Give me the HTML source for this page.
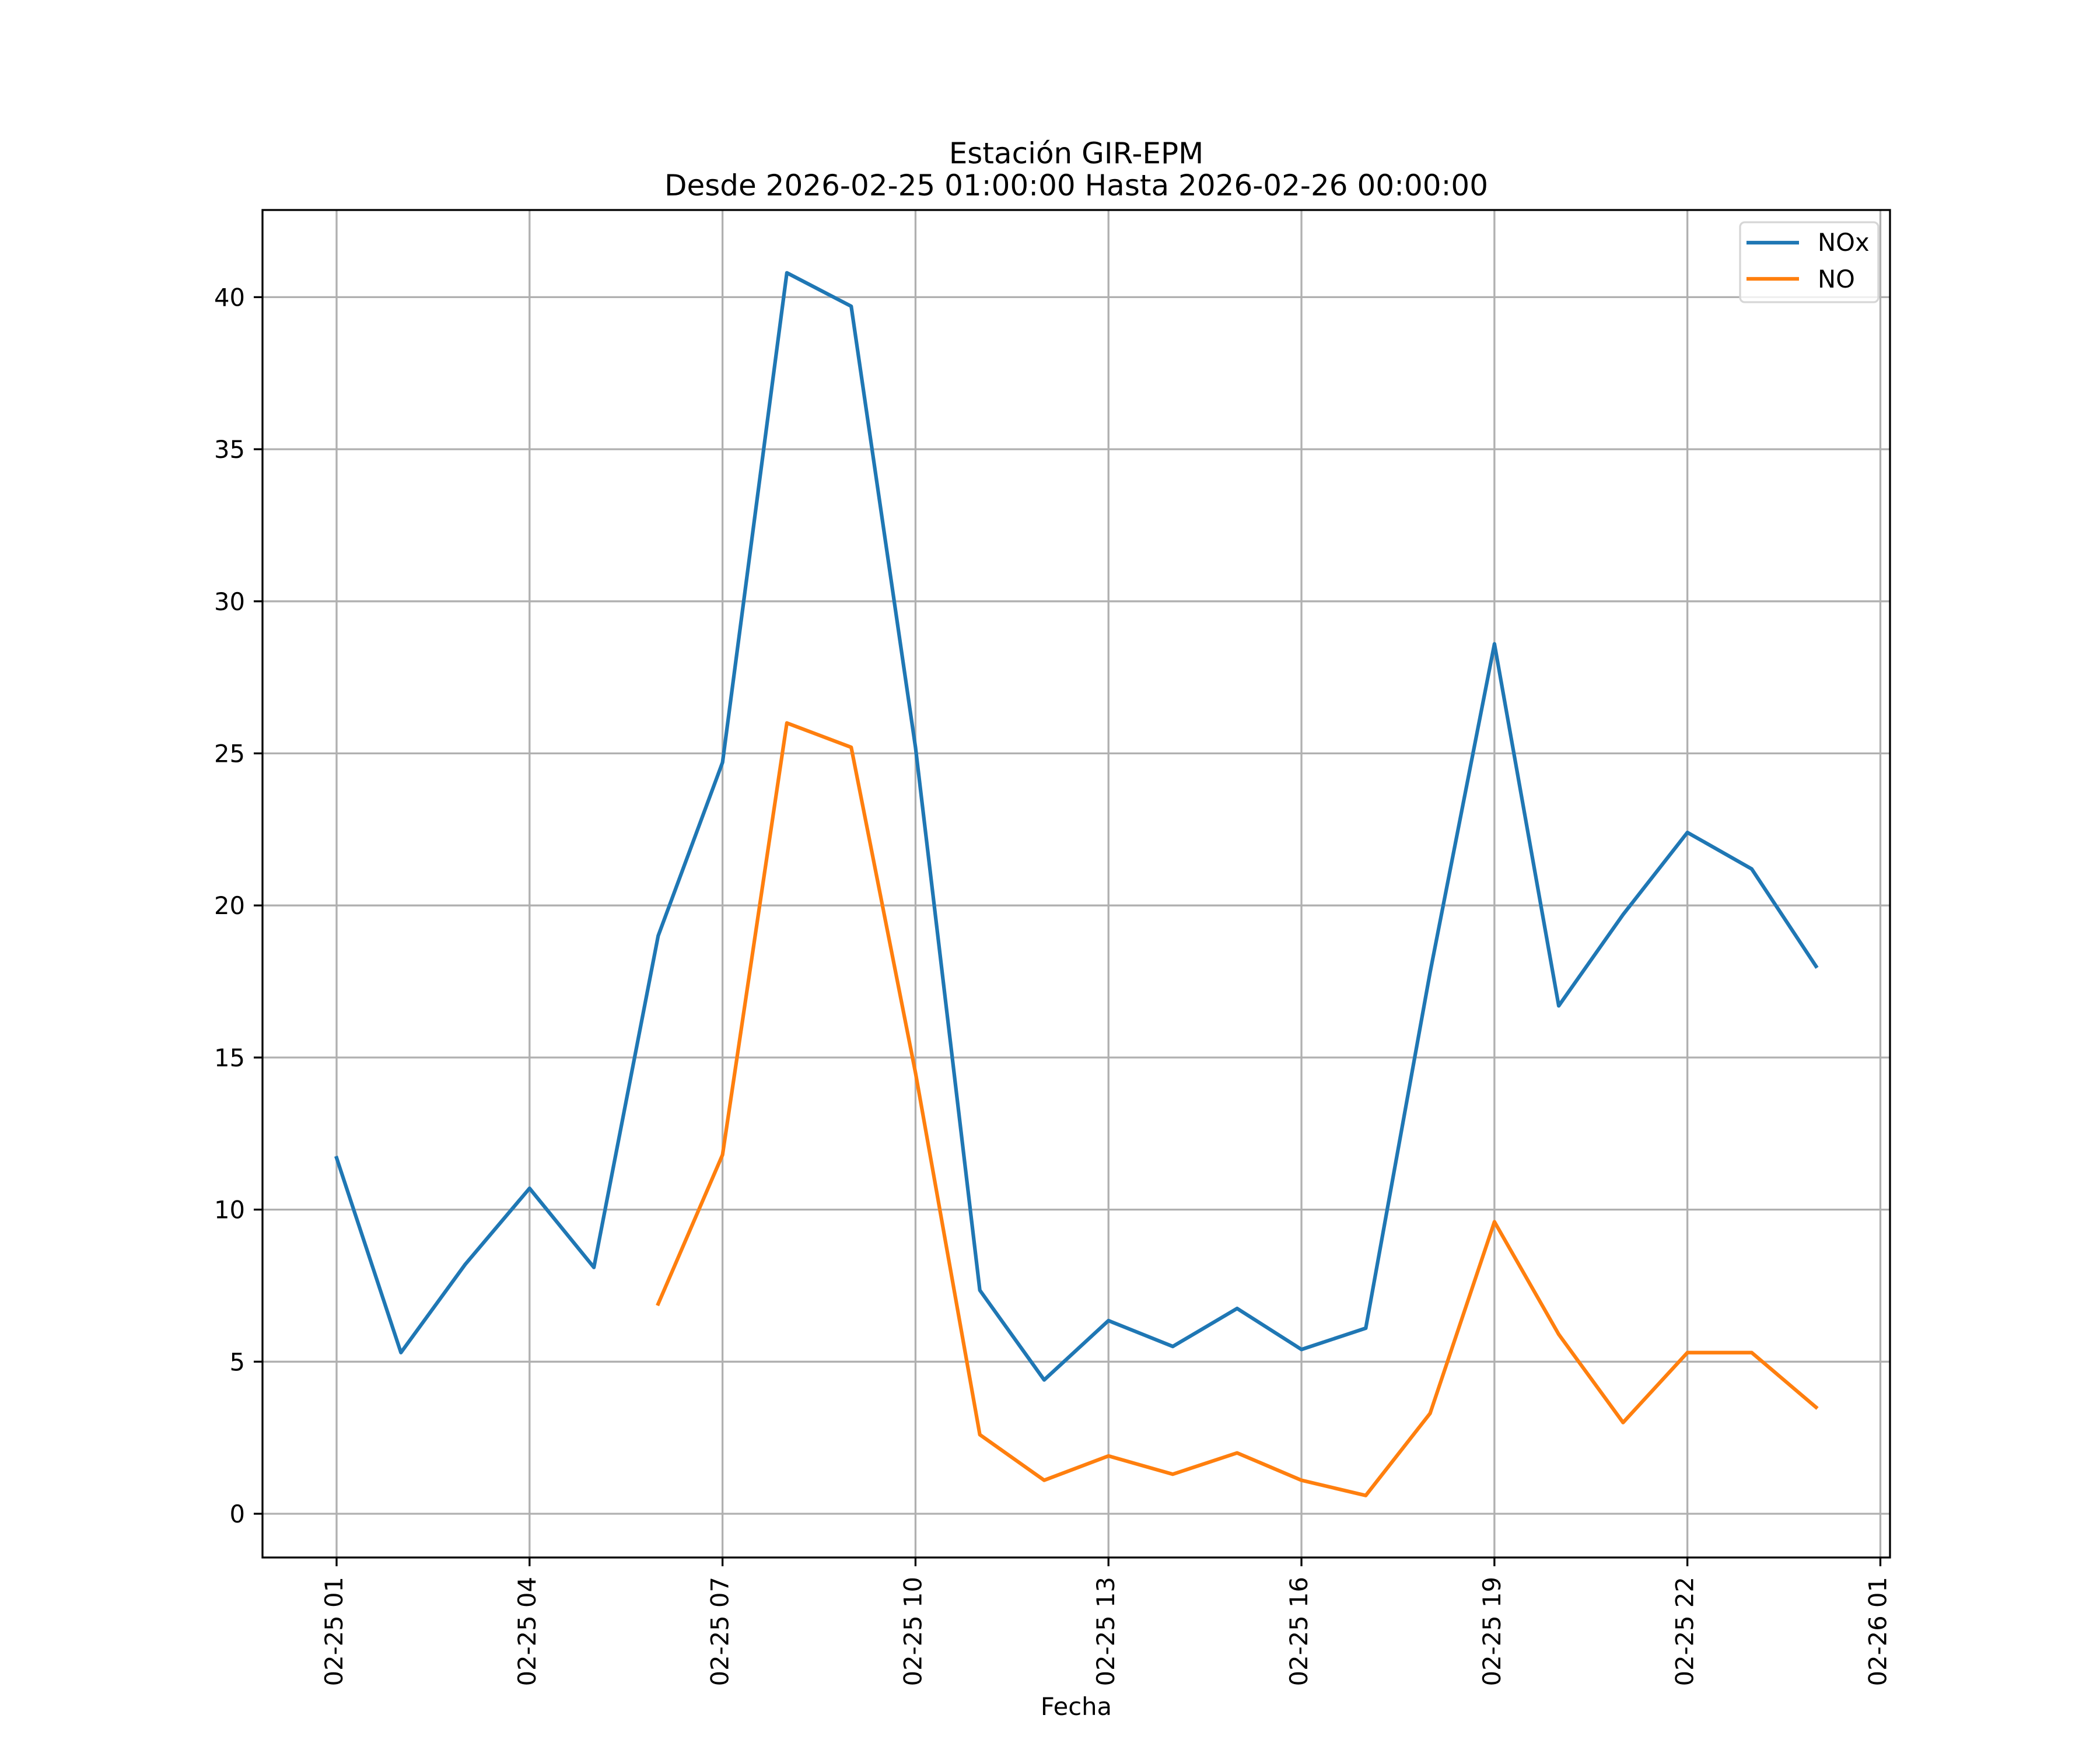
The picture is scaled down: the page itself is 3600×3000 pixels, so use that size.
<!DOCTYPE html>
<html><head><meta charset="utf-8"><style>
html,body{margin:0;padding:0;background:#fff}
svg{display:block;font-family:"DejaVu Sans","Liberation Sans",sans-serif}
</style></head><body>
<svg id="chart" width="3600" height="3000" viewBox="0 0 3600 3000" xmlns="http://www.w3.org/2000/svg">
<rect width="3600" height="3000" fill="#fff"/>
<g id="grid"></g>
<g id="series"></g>
<rect x="450" y="360" width="2790" height="2310" fill="none" stroke="#000" stroke-width="3.3"/>
<g id="ticks"></g>
<text x="1845" y="280" font-size="50" text-anchor="middle">Estación GIR-EPM</text>
<text x="1845" y="335" font-size="50" text-anchor="middle">Desde 2026-02-25 01:00:00 Hasta 2026-02-26 00:00:00</text>
<text x="1845" y="2940" font-size="41.7" text-anchor="middle">Fecha</text>
<g>
<rect x="2983" y="381" width="237" height="137" rx="8" fill="#fff" fill-opacity="0.8" stroke="#d6d6d6" stroke-width="3.3"/>
<line x1="2994" y1="416" x2="3084" y2="416" stroke="#1f77b4" stroke-width="6.25"/>
<text x="3116" y="430" font-size="41.7">NOx</text>
<line x1="2994" y1="478" x2="3084" y2="478" stroke="#ff7f0e" stroke-width="6.25"/>
<text x="3116" y="493" font-size="41.7">NO</text>
</g>
</svg>
<script>
const hours = [1,2,3,4,5,6,7,8,9,10,11,12,13,14,15,16,17,18,19,20,21,22,23,24];
const noxValues = [11.7,5.3,8.2,10.7,8.1,19.0,24.7,40.8,39.7,25.2,7.35,4.4,6.35,5.5,6.75,5.4,6.1,17.8,28.6,16.7,19.7,22.4,21.2,18.0];
const noValues = [null,null,null,null,null,6.9,11.8,26.0,25.2,14.5,2.6,1.1,1.9,1.3,2.0,1.1,0.6,3.3,9.6,5.9,3.0,5.3,5.3,3.5];
const xTickHours = [1,4,7,10,13,16,19,22,25];
const xTickLabels = ["02-25 01","02-25 04","02-25 07","02-25 10","02-25 13","02-25 16","02-25 19","02-25 22","02-26 01"];
const yTicks = [0,5,10,15,20,25,30,35,40];

const NS="http://www.w3.org/2000/svg";
function X(h){return 577+(h-1)*110.27;}
function Y(v){return 2595-v*52.14;}
function mk(tag,attrs,parent){const e=document.createElementNS(NS,tag);for(const k in attrs)e.setAttribute(k,attrs[k]);parent.appendChild(e);return e;}
const grid=document.getElementById('grid'),ticks=document.getElementById('ticks'),series=document.getElementById('series');
yTicks.forEach(v=>{
  const g=mk('line',{x1:450,x2:3240,y1:Y(v),y2:Y(v),stroke:'#b0b0b0','stroke-width':3.3},grid);
  
  
  const t=mk('line',{x1:435,x2:450,y1:Y(v),y2:Y(v),stroke:'#000','stroke-width':3.3},ticks);
  
  
  const l=mk('text',{x:420,y:Y(v)+15,'font-size':41.7,'text-anchor':'end'},ticks);
  l.textContent=v;
  
  
});
xTickHours.forEach((h,i)=>{
  const g=mk('line',{x1:X(h),x2:X(h),y1:360,y2:2670,stroke:'#b0b0b0','stroke-width':3.3},grid);
  
  
  const t=mk('line',{x1:X(h),x2:X(h),y1:2670,y2:2685,stroke:'#000','stroke-width':3.3},ticks);
  
  
  const cx=X(h)+10,cy=2703;
  const l=mk('text',{x:cx,y:cy,'font-size':41.7,'text-anchor':'end',transform:`rotate(-90 ${cx} ${cy})`},ticks);
  l.textContent=xTickLabels[i];
  
  
});
function path(vals,color,name){
  let d='',pen=false;
  vals.forEach((v,i)=>{ if(v===null){pen=false;return;} d+=(pen?'L':'M')+X(hours[i]).toFixed(1)+' '+Y(v).toFixed(1)+' '; pen=true;});
  const p=mk('path',{d:d,fill:'none',stroke:color,'stroke-width':6.25,'stroke-linejoin':'round','stroke-linecap':'square'},series);
  
  
}
path(noxValues,'#1f77b4','nox-line');
path(noValues,'#ff7f0e','no-line');
</script>
</body></html>
